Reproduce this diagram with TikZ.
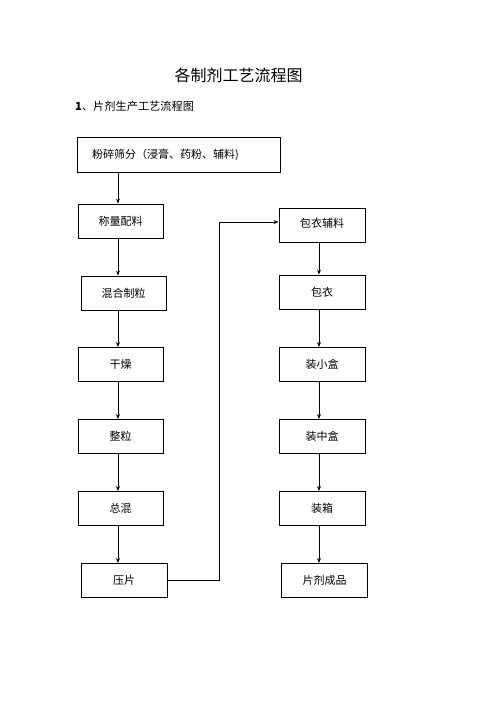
\documentclass[tikz,border=0pt]{standalone}
\usepackage{fontspec}
\setmainfont{Noto Sans CJK SC}
\usetikzlibrary{arrows.meta}
\begin{document}
\begin{tikzpicture}[x=1pt,y=-1pt,
  box/.style={draw=black,line width=0.9pt,minimum width=85pt,minimum height=34pt,inner sep=0pt,font=\fontsize{11}{13}\selectfont},
  arr/.style={line width=0.8pt,-{Stealth[length=5pt,width=4pt]}}]
\useasboundingbox[fill=white] (0,0) rectangle (500,708);
\node (title) at (238.5,75) {\fontsize{16}{19}\selectfont 各制剂工艺流程图};
\node[anchor=west,inner sep=0pt] (sub) at (75,106) {\fontsize{11.2}{14}\selectfont\textbf{1}、片剂生产工艺流程图};
% left column
\node[box,minimum width=203pt,minimum height=35pt,text width=173pt,align=left] (b1) at (178.5,154.5) {粉碎筛分（浸膏、药粉、辅料)};
\node[box] (b2) at (120.5,221) {称量配料};
\node[box] (b3) at (123.5,293) {混合制粒};
\node[box] (b4) at (120.5,364.5) {干燥};
\node[box] (b5) at (120.5,436.5) {整粒};
\node[box] (b6) at (120.5,508.5) {总混};
\node[box,minimum width=86pt] (b7) at (124,580.5) {压片};
% right column
\node[box,minimum width=86pt] (r1) at (322,225) {\raisebox{5pt}{包衣辅料}};
\node[box,minimum width=86pt] (r2) at (322,292) {包衣};
\node[box,minimum width=86pt] (r3) at (322,364.5) {装小盒};
\node[box,minimum width=86pt] (r4) at (322,436.5) {装中盒};
\node[box,minimum width=86pt] (r5) at (322,508.5) {装箱};
\node[box,minimum width=86pt] (r6) at (324.5,580.5) {片剂成品};
\coordinate (lx) at (118,0);
\coordinate (rx) at (319,0);
\coordinate (bend) at (219,0);
\foreach \a/\b in {b1/b2,b2/b3,b3/b4,b4/b5,b5/b6,b6/b7}
  \draw[arr] (\a.south -| lx) -- (\b.north -| lx);
\foreach \a/\b in {r1/r2,r2/r3,r3/r4,r4/r5,r5/r6}
  \draw[arr] (\a.south -| rx) -- (\b.north -| rx);
\draw[arr] (b7.east) -| ([yshift=3pt]r1.west -| bend) -- ([yshift=3pt]r1.west);
\end{tikzpicture}
\end{document}
